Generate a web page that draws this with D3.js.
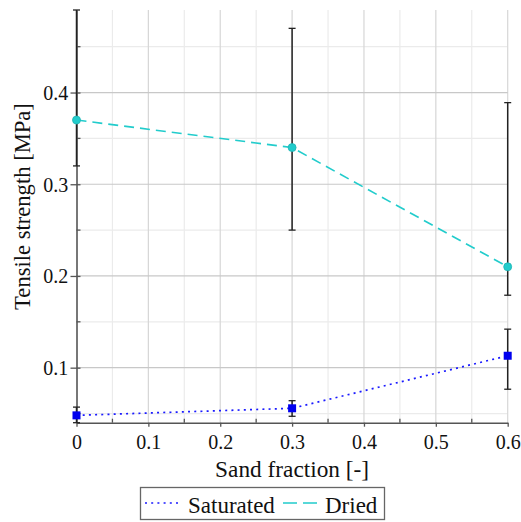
<!DOCTYPE html>
<html>
<head>
<meta charset="utf-8">
<script src="https://cdn.jsdelivr.net/npm/d3@7/dist/d3.min.js"></script>
<style>
  html, body { margin: 0; padding: 0; background: #fff; }
  svg { display: block; }
</style>
</head>
<body>
<svg id="chart" width="521" height="522"></svg>
<script>
// Sand fraction of each mixture
const sandFraction = [0, 0.3, 0.6];

// Tensile strength of saturated specimens [MPa] with min/max range
const saturated     = [0.048, 0.0557, 0.113];
const saturatedLow  = [0.040, 0.047, 0.0765];
const saturatedHigh = [0.057, 0.064, 0.142];

// Tensile strength of dried specimens [MPa] with min/max range
const dried     = [0.37, 0.34, 0.21];
const driedLow  = [0.32, 0.25, 0.179];
const driedHigh = [0.49, 0.47, 0.389];

const xMajorTicks = [0, 0.1, 0.2, 0.3, 0.4, 0.5, 0.6];
const xMinorTicks = [0.05, 0.15, 0.25, 0.35, 0.45, 0.55];
const yMajorTicks = [0.1, 0.2, 0.3, 0.4];
const yMinorTicks = [0.05, 0.15, 0.25, 0.35, 0.45];

const seriesNames = ["Saturated", "Dried"];
const seriesColors = ["#1a1aff", "#22cccc"];

const serif = '"Liberation Serif"';
const textColor = "#111";

const svg = d3.select("#chart");
const plotLeft = 76.5, plotRight = 507.7, plotTop = 10, plotBottom = 422.7;

const x = d3.scaleLinear().domain([0, 0.6]).range([plotLeft, plotRight]);
const y = d3.scaleLinear().domain([0.04, 0.49]).range([plotBottom, plotTop]);

// grid
const grid = svg.append("g");
grid.selectAll(".vminor").data(xMinorTicks).join("line")
  .attr("x1", d => x(d)).attr("x2", d => x(d)).attr("y1", plotTop).attr("y2", plotBottom)
  .attr("stroke", "#ebebeb").attr("stroke-width", 1.2);
grid.selectAll(".hminor").data(yMinorTicks).join("line")
  .attr("x1", plotLeft).attr("x2", plotRight).attr("y1", d => y(d)).attr("y2", d => y(d))
  .attr("stroke", "#ebebeb").attr("stroke-width", 1.2);
grid.selectAll(".vmajor").data(xMajorTicks.slice(1)).join("line")
  .attr("x1", d => x(d)).attr("x2", d => x(d)).attr("y1", plotTop).attr("y2", plotBottom)
  .attr("stroke", "#d6d6d6").attr("stroke-width", 1.2);
grid.selectAll(".hmajor").data(yMajorTicks).join("line")
  .attr("x1", plotLeft).attr("x2", plotRight).attr("y1", d => y(d)).attr("y2", d => y(d))
  .attr("stroke", "#c8c8c8").attr("stroke-width", 1.2);

// axes
const axisColor = "#555";
const xAxis = d3.axisBottom(x).tickValues(xMajorTicks).tickSize(4).tickSizeOuter(0)
  .tickFormat(d => d === 0 ? "0" : d3.format(".1f")(d));
const gx = svg.append("g").attr("transform", `translate(0,${plotBottom})`).call(xAxis)
  .attr("font-family", null).attr("font-size", null);
gx.select(".domain").attr("stroke", axisColor).attr("stroke-width", 1.6);
gx.selectAll(".tick line").attr("stroke", axisColor).attr("stroke-width", 1.3);
gx.selectAll(".tick text").attr("y", 26.5).attr("dy", null).attr("fill", textColor)
  .attr("font-family", "Liberation Serif")
  .style("font-family", serif).style("font-size", "20px");
svg.append("g").selectAll("line").data(xMinorTicks).join("line")
  .attr("x1", d => x(d)).attr("x2", d => x(d)).attr("y1", plotBottom).attr("y2", plotBottom - 4)
  .attr("stroke", axisColor).attr("stroke-width", 1.3);

const yAxis = d3.axisLeft(y).tickValues(yMajorTicks).tickSize(6).tickSizeOuter(0)
  .tickFormat(d3.format(".1f"));
const gy = svg.append("g").attr("transform", `translate(${plotLeft},0)`).call(yAxis)
  .attr("font-family", null).attr("font-size", null);
gy.select(".domain").attr("stroke", axisColor).attr("stroke-width", 1.6);
gy.selectAll(".tick line").attr("stroke", axisColor).attr("stroke-width", 1.3).attr("x2", 4).attr("x1", -6);
gy.selectAll(".tick text").attr("x", -8.2).attr("dy", "0.34em").attr("fill", textColor)
  .attr("font-family", "Liberation Serif")
  .style("font-family", serif).style("font-size", "20px");
svg.append("g").selectAll("line").data(yMinorTicks).join("line")
  .attr("x1", plotLeft).attr("x2", plotLeft + 4).attr("y1", d => y(d)).attr("y2", d => y(d))
  .attr("stroke", axisColor).attr("stroke-width", 1.3);

// series lines
const line = vals => d3.line().x((d, i) => x(sandFraction[i])).y(d => y(d))(vals);
svg.append("path").attr("d", line(saturated)).attr("fill", "none")
  .attr("stroke", seriesColors[0]).attr("stroke-width", 1.7)
  .attr("stroke-dasharray", "2,4.2");
svg.append("path").attr("d", line(dried)).attr("fill", "none")
  .attr("stroke", seriesColors[1]).attr("stroke-width", 1.6)
  .attr("stroke-dasharray", "10,6");

// error bars
const err = svg.append("g").attr("stroke", "#222").attr("stroke-width", 1.5);
function errorBars(lo, hi) {
  sandFraction.forEach((s, i) => {
    const cx = x(s);
    err.append("line").attr("x1", cx).attr("x2", cx).attr("y1", y(lo[i])).attr("y2", y(hi[i]));
    [lo[i], hi[i]].forEach(v => {
      err.append("line").attr("x1", cx - 3.5).attr("x2", cx + 3.5).attr("y1", y(v)).attr("y2", y(v))
        .attr("stroke-width", 1.3);
    });
  });
}
errorBars(driedLow, driedHigh);
errorBars(saturatedLow, saturatedHigh);

// markers
svg.append("g").selectAll("rect").data(saturated).join("rect")
  .attr("x", (d, i) => x(sandFraction[i]) - 4).attr("y", d => y(d) - 4)
  .attr("width", 8).attr("height", 8).attr("fill", "#0000ee");
svg.append("g").selectAll("circle").data(dried).join("circle")
  .attr("cx", (d, i) => x(sandFraction[i])).attr("cy", d => y(d)).attr("r", 4)
  .attr("fill", seriesColors[1]).attr("stroke", "#1fb5b5").attr("stroke-width", 0.8);

// text helper
function label(parent, txt, size) {
  return parent.append("text").text(txt).attr("fill", textColor)
    .attr("font-family", "Liberation Serif")
    .style("font-family", serif).style("font-size", size + "px");
}

// axis titles
label(svg, "Sand fraction [-]", 23.3)
  .attr("x", (plotLeft + plotRight) / 2).attr("y", 477).attr("text-anchor", "middle");
label(svg, "Tensile strength [MPa]", 22.6)
  .attr("transform", "translate(29.5,206.5) rotate(-90)")
  .attr("text-anchor", "middle");

// legend
const lg = svg.append("g");
lg.append("rect").attr("x", 140.5).attr("y", 487.5).attr("width", 244).attr("height", 32)
  .attr("fill", "#fff").attr("stroke", "#666").attr("stroke-width", 1.3);
lg.append("line").attr("x1", 145).attr("x2", 178).attr("y1", 503).attr("y2", 503)
  .attr("stroke", seriesColors[0]).attr("stroke-width", 1.7).attr("stroke-dasharray", "2,4.2");
label(lg, seriesNames[0], 23).attr("x", 188).attr("y", 512.5);
lg.append("line").attr("x1", 283).attr("x2", 319).attr("y1", 503).attr("y2", 503)
  .attr("stroke", seriesColors[1]).attr("stroke-width", 1.6).attr("stroke-dasharray", "14,6");
label(lg, seriesNames[1], 23).attr("x", 325).attr("y", 512.5);
</script>
</body>
</html>
